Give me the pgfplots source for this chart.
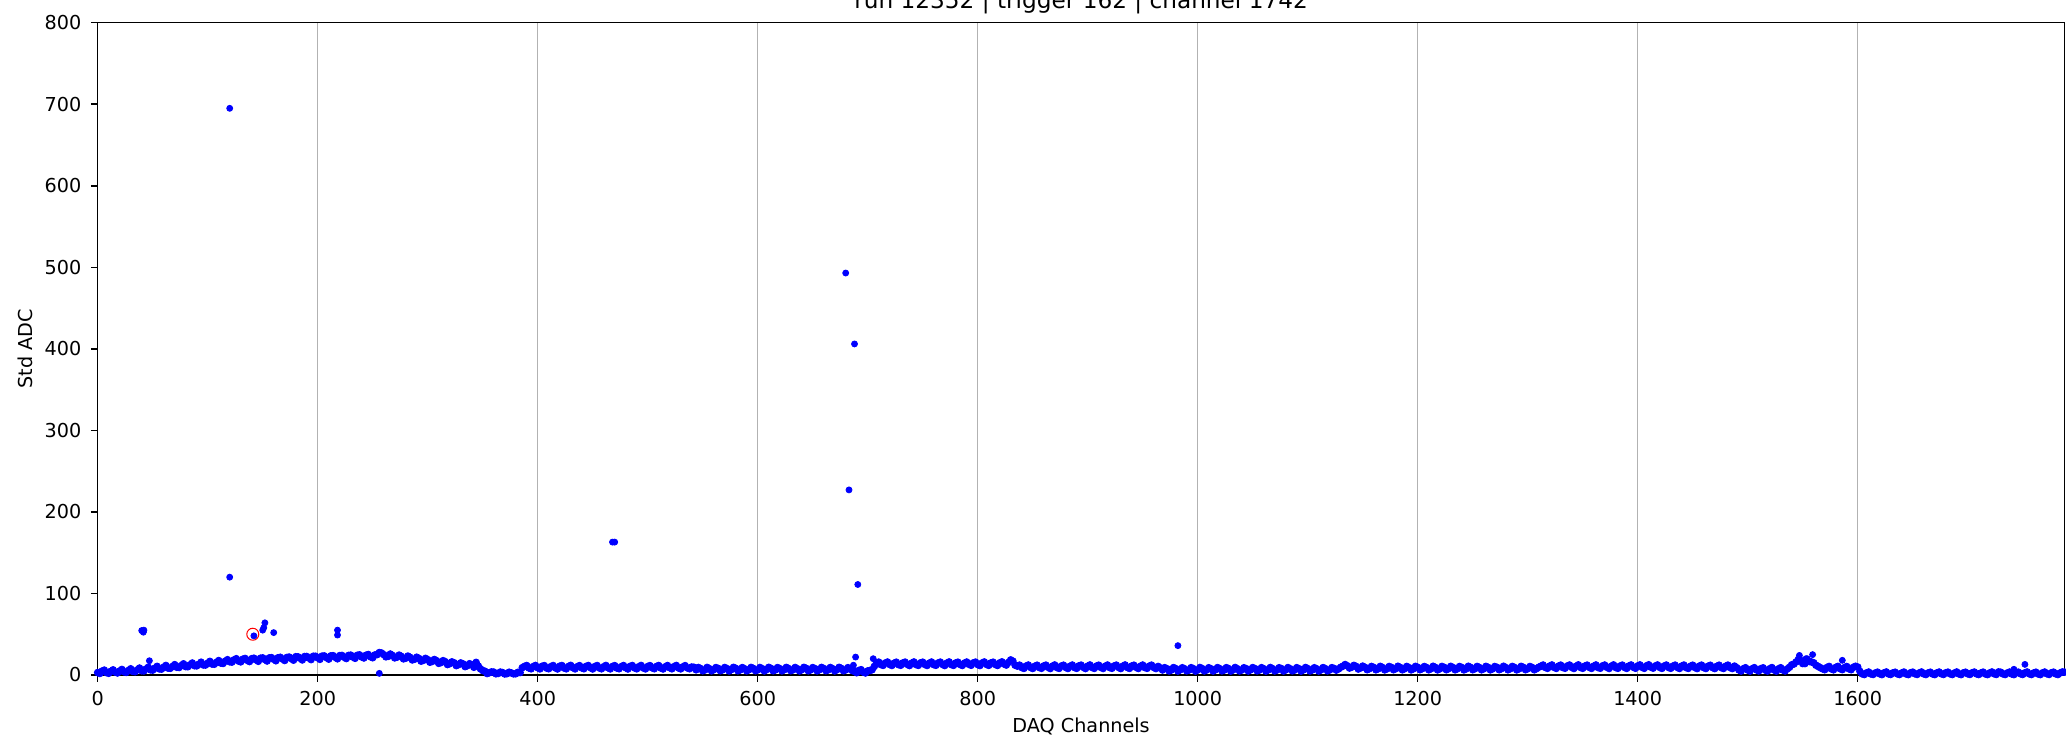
\documentclass[border=0pt]{standalone}
\usepackage{fontspec}
\setmainfont{DejaVu Sans}
\usepackage{pgfplots}
\pgfplotsset{compat=1.18}
\begin{document}
\begin{tikzpicture}
\useasboundingbox (0,0) rectangle (1033pt,370pt);
\clip (0,0) rectangle (1033pt,370pt);
\begin{axis}[
  at={(48.85pt,32.5pt)}, anchor=south west,
  scale only axis, width=983.4pt, height=326.15pt,
  xmin=0, xmax=1788, ymin=0, ymax=800,
  xtick={0,200,...,1600}, ytick={0,100,...,800},
  tick align=outside, major tick length=3.4pt, tick pos=left,
  xmajorgrids, grid style={color=black!30, line width=0.6pt},
  axis line style={line width=0.75pt}, every tick/.style={black, line width=0.75pt},
  /pgf/number format/assume math mode=true,
  /pgf/number format/set thousands separator={},
  tick label style={font=\fontsize{9.6}{11}\selectfont, inner sep=0pt},
  xticklabel style={anchor=base, yshift=-11.6pt},
  yticklabel style={anchor=east, xshift=-4.6pt},
  scaled ticks=false,
  xlabel={DAQ Channels}, ylabel={Std ADC},
  label style={font=\fontsize{9.6}{11}\selectfont, inner sep=0pt},
  xlabel style={at={(rel axis cs:0.5,0)}, anchor=base, yshift=-28.5pt},
  ylabel style={at={(axis description cs:-0.0367,0.5)}, anchor=center, rotate=0},
  title={run 12352 | trigger 162 | channel 1742},
  title style={at={(rel axis cs:0.5,1)}, anchor=base, yshift=1.2pt, inner sep=0pt, font=\fontsize{11.6}{13}\selectfont},
]
% baseline channels (part A)
\addplot[only marks, mark=*, mark size=1.7pt, color=blue, mark options={draw=blue, fill=blue}] coordinates {
(0,3.0)(4,4.8)(8,2.9)(12,4.6)(16,3.5)(20,5.0)(24,3.9)(28,5.6)(32,4.4)(36,6.3)(40,5.2)(44,7.4)(48,6.3)(52,8.4)(56,7.5)(60,9.6)(64,8.4)(68,10.5)(72,9.4)(76,11.6)(80,10.3)(84,12.5)(88,11.4)(92,13.3)(96,12.3)(100,14.5)(104,13.4)(108,15.6)(112,14.6)(116,17.0)(120,16.2)
(124,18.6)(128,17.1)(132,19.4)(136,17.9)(140,20.0)(144,18.5)(148,20.6)(152,19.0)(156,21.0)(160,19.3)(164,21.2)(168,19.6)(172,21.5)(176,20.1)(180,22.4)(184,20.5)(188,22.6)(192,20.8)(196,23.0)(200,21.1)(204,23.2)(208,21.3)(212,23.5)(216,21.6)(220,23.8)(224,21.8)(228,24.0)(232,22.0)(236,24.2)(240,22.1)(244,24.3)(248,22.3)(252,24.6)(256,27.5)(260,25.0)(264,22.8)(268,24.0)(272,21.8)(276,22.9)(280,20.6)(284,21.6)(288,19.3)(292,20.3)(296,17.9)(300,18.9)(304,16.6)(308,17.6)(312,15.2)(316,16.3)(320,13.9)(324,15.0)(328,12.7)(332,13.7)(336,11.4)(340,12.6)(344,15.5)(348,7.5)(352,4.6)(356,2.8)(360,3.6)(364,1.9)(368,3.0)(372,1.6)(376,2.6)(380,1.5)(384,3.0)
(388,10.6)(392,8.6)(396,10.4)(400,8.9)(404,10.7)(408,8.5)(412,10.3)(416,8.8)(420,10.8)(424,8.6)(428,10.5)(432,9.0)(436,10.2)(440,8.7)(444,10.6)(448,8.9)(452,10.4)(456,8.6)(460,10.1)(464,8.8)(468,10.5)(472,8.5)(476,10.3)(480,8.9)(484,10.6)(488,8.7)(492,10.2)(496,8.6)(500,10.4)(504,8.8)(508,10.5)(512,8.5)(516,10.1)(520,8.9)(524,10.3)(528,8.6)(532,10.0)(536,8.7)(540,9.8)
(544,6.4)(548,8.0)(552,6.2)(556,7.8)(560,6.5)(564,8.1)(568,6.3)(572,7.9)(576,6.6)(580,8.2)(584,6.2)(588,7.7)(592,6.5)(596,8.0)(600,6.3)(604,7.8)(608,6.6)(612,8.1)(616,6.2)(620,7.9)(624,6.4)(628,8.0)(632,6.3)(636,7.7)(640,6.5)(644,8.2)(648,6.2)(652,7.9)(656,6.4)(660,8.0)(664,6.3)(668,7.8)(672,6.6)(676,8.1)(680,6.3)(684,7.5)
(688,4.4)(692,5.6)(696,3.5)(700,5.0)(704,6.5)
(708,14.6)(712,12.8)(716,14.7)(720,12.9)(724,14.5)(728,12.7)(732,14.8)(736,13.0)(740,14.6)(744,12.8)(748,14.9)(752,12.9)(756,14.5)(760,12.7)(764,14.7)(768,13.0)(772,14.6)(776,12.8)(780,14.8)(784,12.9)(788,14.6)(792,13.1)(796,14.9)(800,12.8)(804,14.7)(808,13.0)(812,14.8)(816,12.9)(820,14.9)(824,13.4)(828,15.5)(832,17.0)
(836,10.9)(840,9.2)(844,11.0)(848,9.3)(852,10.8)(856,9.1)(860,11.1)(864,9.4)(868,10.9)(872,9.2)(876,11.0)(880,9.3)(884,10.8)(888,9.1)(892,11.2)(896,9.4)(900,10.9)(904,9.2)(908,11.0)(912,9.3)(916,10.8)(920,9.1)(924,11.1)(928,9.3)(932,10.9)(936,9.2)(940,11.0)(944,9.4)(948,10.8)(952,9.1)(956,10.9)(960,9.3)(964,10.5)
(968,6.2)(972,7.8)(976,6.1)(980,7.9)(984,6.3)(988,7.7)(992,6.0)(996,7.8)(1000,6.2)(1004,7.9)(1008,6.1)(1012,7.7)(1016,6.3)(1020,7.8)(1024,6.0)(1028,7.9)(1032,6.2)(1036,7.7)(1040,6.1)(1044,7.8)(1048,6.3)(1052,7.9)(1056,6.0)(1060,7.7)(1064,6.2)(1068,7.8)(1072,6.1)(1076,7.9)(1080,6.3)(1084,7.7)(1088,6.0)(1092,7.8)(1096,6.2)(1100,7.9)(1104,6.1)(1108,7.7)(1112,6.3)(1116,7.8)(1120,6.2)(1124,8.0)(1128,7.4)
(1132,10.8)(1136,11.3)(1140,9.6)(1144,10.5)(1148,8.6)(1152,9.4)(1156,7.7)(1160,9.3)(1164,7.6)(1168,9.2)(1172,7.5)(1176,9.4)(1180,7.7)(1184,9.3)(1188,7.6)(1192,9.1)(1196,7.5)(1200,9.4)(1204,7.7)(1208,9.2)(1212,7.6)(1216,9.3)(1220,7.5)(1224,9.4)(1228,7.7)(1232,9.2)(1236,7.6)(1240,9.3)(1244,7.5)(1248,9.4)(1252,7.7)(1256,9.2)(1260,7.6)(1264,9.3)(1268,7.5)(1272,9.4)(1276,7.7)(1280,9.2)(1284,7.6)(1288,9.3)(1292,7.5)(1296,9.4)(1300,7.7)(1304,9.2)(1308,7.8)
(1312,10.8)(1316,9.2)(1320,11.0)(1324,9.3)(1328,10.9)(1332,9.1)(1336,11.1)(1340,9.4)(1344,10.8)(1348,9.2)(1352,11.0)(1356,9.3)(1360,10.9)(1364,9.1)(1368,11.2)(1372,9.4)(1376,10.8)(1380,9.2)(1384,11.0)(1388,9.3)(1392,11.1)(1396,9.5)(1400,11.2)(1404,9.4)(1408,11.3)(1412,9.6)(1416,11.1)(1420,9.3)(1424,11.0)(1428,9.2)(1432,10.9)(1436,9.3)(1440,11.0)(1444,9.1)(1448,10.8)(1452,9.2)(1456,10.9)(1460,9.0)(1464,10.8)(1468,9.1)(1472,10.7)(1476,9.0)(1480,10.8)(1484,9.1)(1488,10.9)
(1492,6.2)(1496,7.7)(1500,6.1)(1504,7.6)(1508,6.3)(1512,7.8)(1516,6.0)(1520,7.7)(1524,6.2)(1528,7.6)(1532,6.1)(1536,7.5)
(1540,12.5)(1544,16.0)(1548,18.0)(1552,14.0)(1556,16.5)(1560,15.0)(1564,10.5)
(1568,7.6)(1572,9.2)(1576,7.5)(1580,9.3)(1584,7.7)(1588,9.1)(1592,7.6)(1596,9.4)(1600,9.8)
(1604,1.4)(1608,2.6)(1612,1.3)(1616,2.5)(1620,1.5)(1624,2.7)(1628,1.3)(1632,2.6)(1636,1.4)(1640,2.5)(1644,1.3)(1648,2.7)(1652,1.5)(1656,2.6)(1660,1.4)(1664,2.5)(1668,1.3)(1672,2.6)(1676,1.5)(1680,2.7)(1684,1.4)(1688,2.5)(1692,1.3)(1696,2.6)(1700,1.5)(1704,2.7)(1708,1.4)(1712,2.5)(1716,1.3)(1720,2.6)(1724,1.5)(1728,3.8)(1732,1.4)(1736,2.5)(1740,1.3)(1744,2.6)(1748,1.5)(1752,2.7)(1756,1.4)(1760,2.5)(1764,1.3)(1768,2.6)(1772,1.5)(1776,2.7)(1780,1.4)(1784,2.5)(1788,3.5)
};
% baseline channels (part B)
\addplot[only marks, mark=*, mark size=1.7pt, color=blue, mark options={draw=blue, fill=blue}] coordinates {
(2,1.9)(6,6.0)(10,2.1)(14,6.3)(18,2.5)(22,6.8)(26,3.2)(30,7.6)(34,4.0)(38,8.5)(42,5.0)(46,9.5)(50,6.0)(54,10.6)(58,7.2)(62,11.7)(66,8.2)(70,12.7)(74,9.2)(78,13.7)(82,10.2)(86,14.7)(90,11.2)(94,15.7)(98,12.2)(102,16.7)(106,13.2)(110,17.7)(114,14.2)(118,18.8)
(122,15.8)(126,20.0)(130,16.1)(134,20.3)(138,16.5)(142,20.6)(146,16.8)(150,21.0)(154,17.2)(158,21.3)(162,17.5)(166,21.7)(170,17.8)(174,22.0)(178,18.2)(182,22.3)(186,18.5)(190,22.7)(194,18.9)(198,23.0)(202,19.2)(206,23.4)(210,19.5)(214,23.7)(218,19.9)(222,24.0)(226,20.2)(230,24.4)(234,20.5)(238,24.7)(242,20.9)(246,25.1)(250,21.2)(254,25.0)
(258,27.0)(262,22.3)(266,25.7)(270,21.0)(274,24.4)(278,19.8)(282,23.2)(286,18.5)(290,21.8)(294,17.0)(298,20.4)(302,15.7)(306,19.0)(310,14.3)(314,17.6)(318,12.8)(322,16.1)(326,11.5)(330,14.8)(334,10.3)(338,13.8)(342,9.5)(346,11.0)(350,5.5)(354,1.8)(358,3.8)(362,1.5)(366,3.6)(370,1.3)(374,3.4)(378,1.4)(382,3.3)(386,9.0)
(390,11.6)(394,7.6)(398,11.7)(402,7.5)(406,11.5)(410,7.7)(414,11.6)(418,7.4)(422,11.6)(426,7.6)(430,11.8)(434,7.5)(438,11.5)(442,7.7)(446,11.6)(450,7.4)(454,11.6)(458,7.6)(462,11.7)(466,7.5)(470,11.5)(474,7.7)(478,11.6)(482,7.4)(486,11.6)(490,7.6)(494,11.7)(498,7.5)(502,11.5)(506,7.7)(510,11.6)(514,7.4)(518,11.6)(522,7.6)(526,11.7)(530,7.5)(534,11.5)(538,7.7)(542,9.5)
(546,9.2)(550,5.2)(554,9.3)(558,5.1)(562,9.1)(566,5.3)(570,9.2)(574,5.0)(578,9.4)(582,5.2)(586,9.1)(590,5.1)(594,9.3)(598,5.3)(602,9.2)(606,5.0)(610,9.4)(614,5.2)(618,9.1)(622,5.1)(626,9.3)(630,5.3)(634,9.2)(638,5.0)(642,9.4)(646,5.2)(650,9.1)(654,5.1)(658,9.3)(662,5.3)(666,9.2)(670,5.0)(674,9.4)(678,5.2)(682,9.0)(686,5.4)
(690,2.8)(694,6.5)(698,2.5)(702,5.5)(706,10.5)
(710,15.8)(714,11.8)(718,15.9)(722,11.7)(726,15.7)(730,11.9)(734,15.8)(738,11.6)(742,16.0)(746,11.8)(750,15.7)(754,11.7)(758,15.9)(762,11.9)(766,15.8)(770,11.6)(774,16.0)(778,11.8)(782,15.7)(786,11.7)(790,15.9)(794,11.9)(798,15.8)(802,11.6)(806,16.0)(810,11.8)(814,15.7)(818,11.7)(822,16.1)(826,12.2)(830,18.5)(834,12.0)
(838,12.1)(842,8.1)(846,12.2)(850,8.0)(854,12.0)(858,8.2)(862,12.1)(866,7.9)(870,12.3)(874,8.1)(878,12.0)(882,8.0)(886,12.2)(890,8.2)(894,12.1)(898,7.9)(902,12.3)(906,8.1)(910,12.0)(914,8.0)(918,12.2)(922,8.2)(926,12.1)(930,7.9)(934,12.3)(938,8.1)(942,12.0)(946,8.0)(950,12.2)(954,8.2)(958,12.1)(962,7.9)(966,8.8)
(970,9.0)(974,5.0)(978,9.1)(982,4.9)(986,8.9)(990,5.1)(994,9.0)(998,4.8)(1002,9.2)(1006,5.0)(1010,8.9)(1014,4.9)(1018,9.1)(1022,5.1)(1026,9.0)(1030,4.8)(1034,9.2)(1038,5.0)(1042,8.9)(1046,4.9)(1050,9.1)(1054,5.1)(1058,9.0)(1062,4.8)(1066,9.2)(1070,5.0)(1074,8.9)(1078,4.9)(1082,9.1)(1086,5.1)(1090,9.0)(1094,4.8)(1098,9.2)(1102,5.0)(1106,8.9)(1110,4.9)(1114,9.1)(1118,5.1)(1122,9.0)(1126,6.0)
(1130,9.5)(1134,12.8)(1138,8.5)(1142,11.8)(1146,7.3)(1150,10.9)(1154,6.5)(1158,10.5)(1162,6.4)(1166,10.6)(1170,6.3)(1174,10.4)(1178,6.5)(1182,10.7)(1186,6.4)(1190,10.5)(1194,6.3)(1198,10.6)(1202,6.5)(1206,10.4)(1210,6.4)(1214,10.7)(1218,6.3)(1222,10.5)(1226,6.5)(1230,10.6)(1234,6.4)(1238,10.4)(1242,6.3)(1246,10.7)(1250,6.5)(1254,10.5)(1258,6.4)(1262,10.6)(1266,6.3)(1270,10.4)(1274,6.5)(1278,10.7)(1282,6.4)(1286,10.5)(1290,6.3)(1294,10.6)(1298,6.5)(1302,10.4)(1306,6.4)(1310,9.5)
(1314,12.2)(1318,8.2)(1322,12.3)(1326,8.1)(1330,12.1)(1334,8.3)(1338,12.2)(1342,8.0)(1346,12.4)(1350,8.2)(1354,12.1)(1358,8.1)(1362,12.3)(1366,8.3)(1370,12.2)(1374,8.0)(1378,12.4)(1382,8.2)(1386,12.1)(1390,8.1)(1394,12.3)(1398,8.3)(1402,12.4)(1406,8.2)(1410,12.5)(1414,8.4)(1418,12.3)(1422,8.1)(1426,12.2)(1430,8.2)(1434,12.1)(1438,8.0)(1442,12.2)(1446,8.1)(1450,12.0)(1454,7.9)(1458,12.1)(1462,8.0)(1466,11.9)(1470,7.9)(1474,12.0)(1478,8.0)(1482,12.1)(1486,7.9)(1490,9.0)
(1494,4.9)(1498,8.9)(1502,4.8)(1506,9.0)(1510,5.0)(1514,8.8)(1518,4.9)(1522,9.1)(1526,4.8)(1530,8.9)(1534,5.0)(1538,9.5)
(1542,13.5)(1546,19.0)(1550,14.0)(1554,19.5)(1558,16.0)(1562,12.0)(1566,9.0)
(1570,6.5)(1574,10.5)(1578,6.4)(1582,10.6)(1586,6.6)(1590,10.4)(1594,6.5)(1598,10.7)
(1602,4.5)(1606,0.6)(1610,3.6)(1614,0.7)(1618,3.5)(1622,0.5)(1626,3.7)(1630,0.7)(1634,3.4)(1638,0.6)(1642,3.6)(1646,0.5)(1650,3.5)(1654,0.7)(1658,3.7)(1662,0.6)(1666,3.4)(1670,0.5)(1674,3.6)(1678,0.7)(1682,3.5)(1686,0.6)(1690,3.7)(1694,0.5)(1698,3.4)(1702,0.7)(1706,3.6)(1710,0.6)(1714,3.5)(1718,0.5)(1722,3.7)(1726,0.7)(1730,3.4)(1734,0.6)(1738,3.6)(1742,0.5)(1746,3.5)(1750,0.7)(1754,3.7)(1758,0.6)(1762,3.4)(1766,0.5)(1770,3.6)(1774,0.7)(1778,3.5)(1782,0.6)(1786,3.7)
};
\addplot[only marks, mark=o, mark size=3pt, color=red, mark options={line width=0.5pt}] coordinates {(141,50)};
% outlier channels
\addplot[only marks, mark=*, mark size=1.5pt, color=blue, mark options={draw=blue, fill=blue}] coordinates {
(40,54.5)(41.5,52.5)(42,55)(47,17.5)(120,695)(120,120)(142,48)(150,55)(151,58)(152,64)(160,52)(218,55)(218,49)(256,2)(468,163)(470,163)(680,493)(683,227)(688,406)(691,111)(689,22)(687,12)(705,20)(982,36)(1547,24)(1553,20)(1559,25)(1586,18)(1742,7)(1752,13)
};
\end{axis}
\end{tikzpicture}
\end{document}
